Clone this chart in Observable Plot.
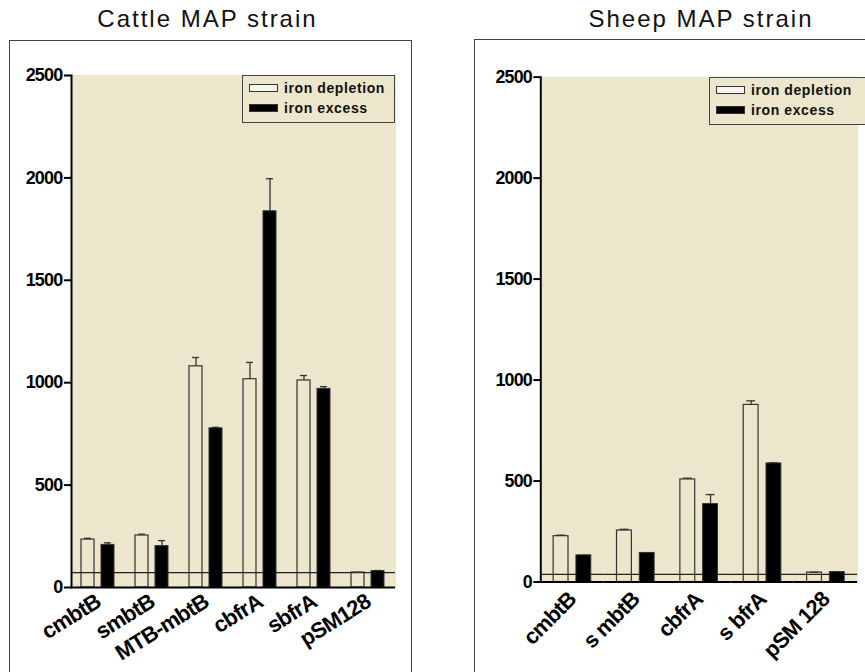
<!DOCTYPE html>
<html><head><meta charset="utf-8">
<script src="https://cdn.jsdelivr.net/npm/d3@7"></script>
<script src="https://cdn.jsdelivr.net/npm/@observablehq/plot@0.6"></script>
<style>
html,body{margin:0;padding:0;background:#fff;}
body{width:865px;height:672px;overflow:hidden;position:relative;font-family:"Liberation Sans",Arial,sans-serif;}
.title{position:absolute;top:7px;font-size:24px;line-height:24px;letter-spacing:2px;transform:translateX(-50%);white-space:nowrap;color:#111;}
.panel{position:absolute;border:1px solid #444;box-sizing:border-box;pointer-events:none;z-index:2;}
.chart{position:absolute;top:40px;z-index:1;}
.chart svg text{letter-spacing:-0.8px;}
.legend{position:absolute;background:#EBE6CC;border:1px solid #444;box-sizing:border-box;z-index:3;height:48px;}
.legend .sw{position:absolute;left:6px;width:29px;height:8px;box-sizing:border-box;border:1px solid #333;}
.legend .lb{position:absolute;left:41px;font-size:14px;line-height:14px;font-weight:bold;letter-spacing:0.6px;white-space:nowrap;color:#111;}
</style>
</head><body>
<script>
// ---- data ----
const conditions = ["iron depletion", "iron excess"];
const yTicks = [0, 500, 1000, 1500, 2000, 2500];

const cattleTitle = "Cattle MAP strain";
const cattleGenes = ["cmbtB", "smbtB", "MTB-mbtB", "cbfrA", "sbfrA", "pSM128"];
const cattleDepletion = [234, 254, 1080, 1017, 1011, 73];
const cattleDepletionErr = [6, 6, 43, 82, 24, 1];
const cattleExcess = [208, 202, 777, 1837, 970, 80];
const cattleExcessErr = [10, 27, 5, 159, 11, 3];
const cattleThreshold = 73;

const sheepTitle = "Sheep MAP strain";
const sheepGenes = ["cmbtB", "s mbtB", "cbfrA", "s bfrA", "pSM 128"];
const sheepDepletion = [227, 255, 508, 877, 47];
const sheepDepletionErr = [5, 6, 6, 20, 1];
const sheepExcess = [132, 144, 386, 587, 49];
const sheepExcessErr = [0, 0, 47, 3, 1];
const sheepThreshold = 38;

const beige = "#EBE6CC";

function rowsFor(genes, dep, depErr, exc, excErr) {
  return genes.flatMap((g, i) => [
    {gene: g, condition: conditions[0], value: dep[i], err: depErr[i]},
    {gene: g, condition: conditions[1], value: exc[i], err: excErr[i]}
  ]);
}

function chart({genes, rows, threshold, width, marginLeft, marginRight, marginTop, marginBottom, rotate, pad}) {
  const open = rows.filter(d => d.condition === conditions[0]);
  const solid = rows.filter(d => d.condition === conditions[1]);
  return Plot.plot({
    width, height: 632, marginLeft, marginRight, marginTop, marginBottom,
    style: {background: "transparent", fontFamily: "Liberation Sans, Arial, sans-serif", color: "black"},
    fx: {domain: genes, padding: 0},
    x: {domain: conditions, paddingInner: 0.33, paddingOuter: 0.5, axis: null},
    y: {domain: [0, 2500]},
    marks: [
      Plot.frame({fill: beige, stroke: beige, strokeWidth: 1}),
      Plot.barY(open, {fx: "gene", x: "condition", y: "value", fill: "none", stroke: "#333", strokeWidth: 1.2}),
      Plot.ruleY([threshold], {stroke: "#222", strokeWidth: 1.2}),
      Plot.ruleX(rows, {fx: "gene", x: "condition", y1: "value", y2: d => d.value + d.err, stroke: "#333", strokeWidth: 1.3}),
      Plot.tickY(rows, {fx: "gene", x: "condition", y: d => d.value + d.err, stroke: "#333", strokeWidth: 1.3, insetLeft: 3, insetRight: 3}),
      Plot.barY(solid, {fx: "gene", x: "condition", y: "value", fill: "black", stroke: "#333", strokeWidth: 1}),
      Plot.ruleY([0], {stroke: "black", strokeWidth: 2}),
      Plot.frame({anchor: "left", facetAnchor: "left", stroke: "black", strokeWidth: 2}),
      Plot.axisY({ticks: yTicks, tickFormat: d3.format("d"), tickSize: 7, tickPadding: 2, strokeWidth: 2, fontSize: 18, fontWeight: "bold", label: null}),
      Plot.axisFx({anchor: "bottom", tickRotate: rotate, tickSize: 0, tickPadding: pad, fontSize: 22, fontWeight: "bold", label: null})
    ]
  });
}

function addDiv(cls, css, text) {
  const d = document.createElement("div");
  d.className = cls;
  Object.assign(d.style, css);
  if (text != null) d.textContent = text;
  document.body.appendChild(d);
  return d;
}

function legend(left, top, width) {
  const box = addDiv("legend", {left: left + "px", top: top + "px", width: width + "px"});
  const fills = ["#f7f5ee", "#000"];
  conditions.forEach((c, i) => {
    const sw = document.createElement("div");
    sw.className = "sw";
    sw.style.top = (8 + i * 20) + "px";
    sw.style.background = fills[i];
    box.appendChild(sw);
    const lb = document.createElement("div");
    lb.className = "lb";
    lb.style.top = (5 + i * 20) + "px";
    lb.textContent = c;
    box.appendChild(lb);
  });
}

// Cattle panel
addDiv("title", {left: "207.5px"}, cattleTitle);
addDiv("panel", {left: "9px", top: "40px", width: "403px", height: "700px"});
const c1 = addDiv("chart", {left: "0px"});
c1.appendChild(chart({
  genes: cattleGenes,
  rows: rowsFor(cattleGenes, cattleDepletion, cattleDepletionErr, cattleExcess, cattleExcessErr),
  threshold: cattleThreshold, width: 412, marginLeft: 70, marginRight: 17, marginTop: 35, marginBottom: 85, rotate: -32, pad: 12
}));
legend(242, 75, 153);

// Sheep panel
addDiv("title", {left: "701px"}, sheepTitle);
addDiv("panel", {left: "474px", top: "39px", width: "500px", height: "700px"});
const c2 = addDiv("chart", {left: "469px"});
c2.appendChild(chart({
  genes: sheepGenes,
  rows: rowsFor(sheepGenes, sheepDepletion, sheepDepletionErr, sheepExcess, sheepExcessErr),
  threshold: sheepThreshold, width: 400, marginLeft: 70, marginRight: 6, marginTop: 37, marginBottom: 85, rotate: -45, pad: 14
}));
legend(709, 77, 160);
</script>
</body></html>
